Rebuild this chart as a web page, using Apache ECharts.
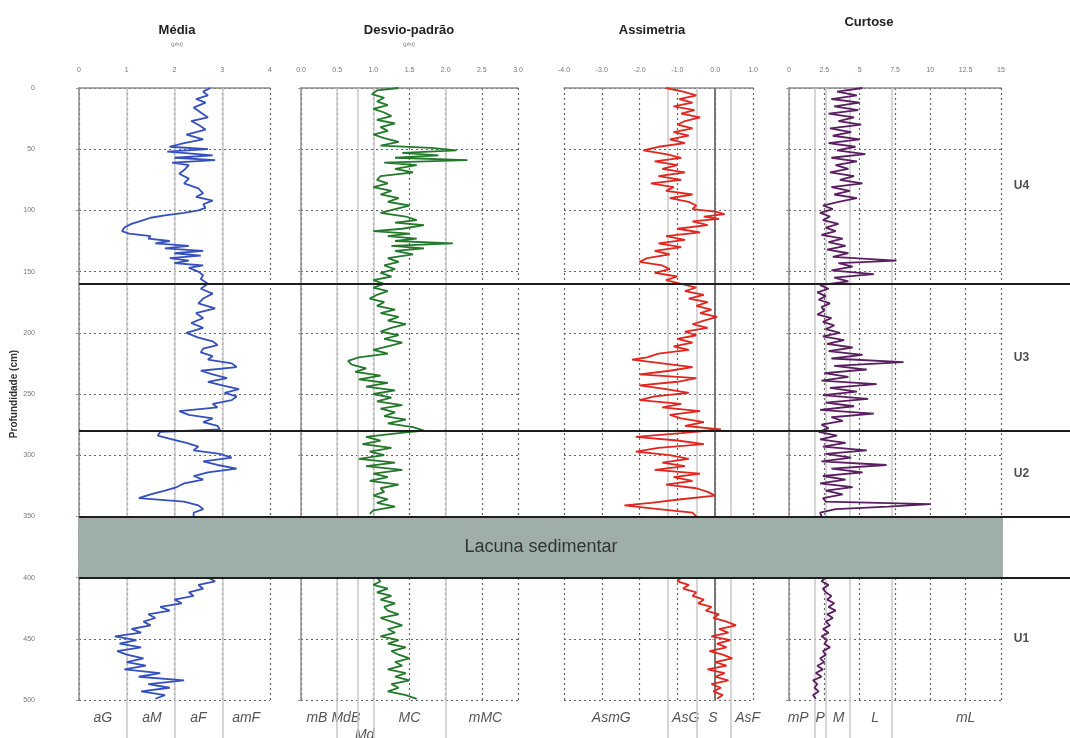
<!DOCTYPE html>
<html lang="pt">
<head>
<meta charset="UTF-8">
<title>Parâmetros granulométricos</title>
<script src="https://cdn.jsdelivr.net/npm/echarts@6/dist/echarts.min.js"></script>
<style>
  html, body { margin: 0; padding: 0; background: #fff; }
  #chart { width: 1070px; height: 738px; }
</style>
</head>
<body>
<div id="chart"></div>
<script>
var media = [[0,2.75],[3,2.6],[6,2.7],[9,2.45],[12,2.65],[16,2.4],[20,2.55],[24,2.7],[27,2.35],[30,2.5],[34,2.65],[38,2.25],[42,2.6],[45,2.2],[48,1.9],[50,2.7],[52,1.85],[55,2.8],[57,2.0],[59,2.85],[61,1.95],[63,2.3],[67,2.2],[70,2.1],[74,2.3],[78,2.2],[82,2.5],[86,2.6],[89,2.45],[92,2.8],[95,2.6],[98,2.65],[100,2.5],[102,2.2],[104,1.8],[106,1.5],[108,1.35],[111,1.1],[114,0.95],[117,0.9],[119,1.05],[121,1.5],[123,1.45],[125,1.9],[127,1.6],[129,2.3],[131,1.8],[133,2.6],[135,2.0],[137,2.55],[139,1.9],[141,2.3],[143,2.0],[145,2.6],[147,2.3],[150,2.5],[153,2.6],[156,2.55],[160,2.7],[164,2.55],[168,2.8],[172,2.6],[176,2.5],[180,2.85],[184,2.45],[188,2.6],[192,2.35],[196,2.6],[200,2.25],[204,2.5],[207,2.8],[210,2.9],[213,2.6],[216,2.55],[219,2.8],[222,2.7],[225,3.2],[228,3.3],[231,2.55],[234,2.8],[237,3.1],[240,2.7],[243,3.0],[246,3.35],[249,3.05],[252,3.3],[255,3.2],[258,2.8],[261,2.9],[264,2.1],[267,2.3],[270,2.8],[273,2.6],[276,2.9],[279,2.95],[281,1.7],[284,1.65],[287,1.95],[290,2.25],[293,2.5],[296,2.4],[299,2.95],[302,3.2],[305,2.6],[308,2.9],[311,3.3],[314,2.7],[317,2.4],[320,2.6],[323,2.2],[326,2.05],[329,1.8],[332,1.5],[335,1.25],[338,2.2],[341,2.5],[344,2.6],[347,2.4],[350,2.4],
  [400,2.7],[403,2.85],[406,2.5],[409,2.6],[412,2.3],[415,2.4],[418,2.0],[421,2.15],[424,1.7],[427,1.9],[430,1.45],[433,1.6],[436,1.35],[439,1.5],[442,1.1],[445,1.3],[448,0.75],[451,1.2],[454,0.85],[457,1.3],[460,0.8],[463,1.0],[466,1.35],[469,1.0],[472,1.4],[475,0.95],[478,1.7],[481,1.25],[484,2.2],[487,1.45],[490,1.9],[493,1.3],[496,1.8],[499,1.6]];

var desvio = [[0,1.35],[2,1.05],[5,0.98],[8,1.15],[11,1.05],[14,1.2],[17,1.0],[20,1.15],[23,1.25],[26,1.05],[29,1.3],[32,1.1],[35,1.2],[38,1.0],[41,1.15],[44,1.35],[47,1.1],[49,1.8],[51,2.15],[53,1.4],[55,1.9],[57,1.3],[59,2.3],[61,1.15],[63,1.6],[66,1.3],[69,1.55],[72,1.1],[75,1.05],[78,1.2],[81,1.0],[84,1.25],[87,1.1],[90,1.35],[93,1.2],[96,1.5],[99,1.3],[102,1.1],[105,1.45],[108,1.6],[110,1.3],[112,1.7],[115,1.4],[117,1.0],[119,1.5],[121,1.2],[123,1.6],[125,1.3],[127,2.1],[129,1.25],[131,1.7],[133,1.3],[136,1.55],[139,1.2],[142,1.35],[145,1.15],[148,1.3],[151,1.1],[154,1.25],[157,1.0],[160,1.15],[163,1.0],[166,1.2],[169,1.05],[172,0.95],[175,1.15],[178,1.05],[181,1.3],[184,1.1],[187,1.35],[190,1.2],[193,1.45],[196,1.25],[199,1.1],[202,1.35],[205,1.15],[208,1.4],[211,1.2],[214,1.0],[217,1.2],[220,0.8],[223,0.65],[226,0.7],[229,0.9],[232,0.75],[235,1.1],[238,0.8],[241,1.2],[244,0.9],[247,1.3],[250,1.0],[253,1.25],[256,1.05],[259,1.4],[262,1.1],[265,1.3],[268,1.15],[271,1.45],[274,1.2],[277,1.55],[280,1.7],[282,1.35],[285,0.9],[288,1.1],[291,0.85],[294,1.25],[297,0.95],[300,1.15],[303,0.8],[306,1.3],[309,0.9],[312,1.4],[315,1.0],[318,1.2],[321,0.95],[324,1.35],[327,1.1],[330,1.15],[333,1.0],[336,1.2],[339,1.05],[342,1.3],[345,1.0],[348,0.95],
  [400,1.05],[403,1.1],[406,1.0],[409,1.2],[412,1.05],[415,1.25],[418,1.1],[421,1.3],[424,1.15],[427,1.2],[430,1.35],[433,1.1],[436,1.25],[439,1.4],[442,1.2],[445,1.3],[448,1.1],[451,1.35],[454,1.2],[457,1.45],[460,1.25],[463,1.35],[466,1.5],[469,1.3],[472,1.4],[475,1.2],[478,1.45],[481,1.3],[484,1.5],[487,1.25],[490,1.35],[493,1.2],[496,1.45],[499,1.6]];

var assimetria = [[0,-1.3],[3,-0.85],[6,-0.5],[9,-0.95],[12,-0.6],[15,-1.1],[18,-0.55],[21,-0.9],[24,-0.4],[27,-0.8],[30,-1.0],[33,-0.6],[36,-1.1],[39,-0.7],[42,-1.2],[45,-0.8],[48,-1.5],[51,-1.9],[54,-1.3],[57,-0.9],[60,-1.6],[63,-1.0],[66,-1.4],[69,-0.8],[72,-1.5],[75,-0.9],[78,-1.7],[81,-1.1],[84,-1.3],[87,-0.6],[90,-1.2],[93,-0.7],[96,-0.5],[99,-0.6],[101,0.0],[103,0.25],[105,-0.3],[107,0.1],[109,-0.6],[112,-0.2],[115,-1.0],[118,-0.4],[121,-1.3],[124,-0.8],[127,-1.5],[130,-0.9],[133,-1.6],[136,-1.2],[139,-1.8],[142,-2.0],[145,-1.4],[148,-1.2],[151,-1.6],[154,-1.0],[157,-1.3],[160,-0.9],[163,-0.5],[166,-0.8],[169,-0.3],[172,-0.7],[175,-0.2],[178,-0.5],[181,-0.1],[184,-0.4],[187,0.05],[190,-0.3],[193,-0.6],[196,-0.2],[199,-0.8],[202,-0.5],[205,-1.0],[208,-0.6],[211,-1.1],[214,-0.7],[217,-1.5],[220,-1.8],[222,-2.2],[225,-1.4],[228,-0.6],[231,-1.2],[234,-2.0],[237,-0.5],[240,-1.0],[243,-2.0],[246,-1.3],[249,-0.7],[252,-1.6],[255,-2.0],[258,-0.9],[261,-1.4],[264,-0.4],[267,-1.2],[270,-0.9],[273,-0.3],[276,-0.8],[279,0.15],[282,-0.9],[285,-2.1],[288,-1.0],[291,-0.3],[294,-1.5],[297,-2.1],[300,-1.2],[303,-0.7],[306,-1.4],[309,-0.8],[312,-1.6],[315,-0.4],[318,-1.1],[321,-0.6],[324,-1.3],[327,-0.5],[330,-0.2],[333,0.0],[336,-0.9],[339,-1.7],[341,-2.4],[344,-1.5],[347,-0.6],[350,-0.5],
  [400,-0.9],[403,-1.0],[406,-0.7],[409,-0.85],[412,-0.5],[415,-0.6],[418,-0.3],[421,-0.45],[424,-0.1],[427,-0.25],[430,0.1],[433,-0.05],[436,0.3],[439,0.55],[442,0.1],[445,0.35],[448,-0.1],[451,0.4],[454,0.05],[457,0.3],[460,-0.15],[463,0.2],[466,0.45],[469,0.0],[472,0.3],[475,-0.2],[478,0.25],[481,0.0],[484,0.35],[487,-0.1],[490,0.15],[493,-0.05],[496,0.2],[499,0.05]];

var curtose = [[0,5.2],[3,3.4],[6,4.8],[9,3.0],[12,5.0],[15,3.2],[18,4.9],[21,2.8],[24,4.6],[27,3.5],[30,5.1],[33,2.9],[36,4.4],[39,3.1],[42,5.0],[45,2.8],[48,4.7],[51,3.4],[54,5.4],[57,3.0],[60,4.8],[63,3.3],[66,4.2],[69,2.9],[72,4.6],[75,3.6],[78,5.2],[81,3.0],[84,4.3],[87,3.2],[90,4.8],[93,3.5],[96,2.4],[99,3.1],[102,2.2],[105,2.9],[108,2.4],[111,3.5],[114,2.6],[117,3.3],[120,2.3],[123,3.8],[126,2.8],[129,4.0],[132,2.7],[135,4.2],[138,3.1],[141,7.6],[143,3.5],[146,4.5],[149,3.0],[152,6.0],[155,3.2],[158,4.2],[161,2.2],[164,2.8],[167,2.0],[170,2.6],[173,2.1],[176,2.9],[179,2.3],[182,2.5],[185,2.0],[188,3.0],[191,2.4],[194,3.2],[197,2.6],[200,3.6],[203,2.4],[206,3.9],[209,2.7],[212,4.5],[215,2.8],[218,5.2],[221,3.0],[224,8.1],[227,3.2],[230,5.5],[233,2.5],[236,4.2],[239,2.3],[242,6.2],[245,2.9],[248,4.8],[251,2.4],[254,5.6],[257,2.6],[260,4.6],[263,2.2],[266,6.0],[269,3.0],[272,3.8],[275,2.3],[278,2.8],[281,2.1],[284,3.4],[287,2.2],[290,4.0],[293,2.4],[296,5.5],[299,2.6],[302,4.4],[305,2.3],[308,6.9],[311,3.0],[314,5.2],[317,2.4],[320,4.0],[323,2.2],[326,4.5],[329,2.6],[332,3.8],[335,2.4],[338,2.6],[340,10.0],[342,7.0],[344,3.3],[347,2.2],[350,2.3],
  [400,2.6],[403,2.3],[406,2.8],[409,2.4],[412,2.6],[415,3.0],[418,2.7],[421,3.2],[424,2.8],[427,3.3],[430,2.7],[433,3.1],[436,2.6],[439,2.9],[442,2.4],[445,2.8],[448,2.3],[451,2.7],[454,2.5],[457,2.9],[460,2.4],[463,2.6],[466,2.2],[469,2.5],[472,2.0],[475,2.4],[478,1.9],[481,2.3],[484,1.7],[487,2.0],[490,1.8],[493,2.1],[496,1.7],[499,1.9]];

var depthTicks = ['0','50','100','150','200','250','300','350','400','450','500'];
var mediaTicks = ['0','1','2','3','4'];
var desvioTicks = ['0.0','0.5','1.0','1.5','2.0','2.5','3.0'];
var assimTicks = ['-4.0','-3.0','-2.0','-1.0','0.0','1.0'];
var curtTicks = ['0','2.5','5','7.5','10','12.5','15'];

// limites das classes (Folk & Ward) e nomes
var mediaClasses = [1, 2, 3];
var mediaNames = ['aG', 'aM', 'aF', 'amF'];
var desvioClasses = [0.5, 0.79, 1.0, 2.0];
var desvioNames = ['mB', 'MdB', 'Md', 'MC', 'mMC'];
var assimClasses = [-1.25, -0.5, 0.42];
var assimNames = ['AsmG', 'AsG', 'S', 'AsF'];
var curtClasses = [1.8, 2.6, 4.3, 7.3];
var curtNames = ['mP', 'P', 'M', 'L', 'mL'];

var units = ['U4', 'U3', 'U2', 'U1'];
var unitTops = [0, 160, 280, 400];
var unitBottoms = [160, 280, 350, 500];
var lacuna = [350, 400];

var panels = [
  { title: 'Média', unit: '(phi)', data: media, ticks: mediaTicks, min: 0, max: 4, step: 1,
    classes: mediaClasses, names: mediaNames, namePos: [0.5, 1.53, 2.5, 3.5], nameLow: [],
    color: '#3550bd', left: 79, width: 191, titleX: 177, titleY: 30 },
  { title: 'Desvio-padrão', unit: '(phi)', data: desvio, ticks: desvioTicks, min: 0, max: 3, step: 0.5,
    classes: desvioClasses, names: desvioNames, namePos: [0.22, 0.62, 0.88, 1.5, 2.55], nameLow: ['Md'],
    color: '#23782b', left: 301, width: 217, titleX: 409, titleY: 30 },
  { title: 'Assimetria', unit: '', data: assimetria, ticks: assimTicks, min: -4, max: 1, step: 1,
    classes: assimClasses, names: assimNames, namePos: [-2.75, -0.78, -0.06, 0.86], nameLow: [],
    color: '#e0261e', left: 564, width: 189, titleX: 652, titleY: 30, zeroLine: true },
  { title: 'Curtose', unit: '', data: curtose, ticks: curtTicks, min: 0, max: 15, step: 2.5,
    classes: curtClasses, names: curtNames, namePos: [0.65, 2.2, 3.5, 6.1, 12.5], nameLow: [],
    color: '#5a1f60', left: 789, width: 212, titleX: 869, titleY: 22 }
];

var TOP = 88, H = 612;
var dash = { color: '#666', type: [2, 3], width: 1.2 };
var classLine = { color: '#c9c9c9', type: 'solid', width: 1.5 };

function toSeries(pairs) {
  var out = [];
  for (var i = 0; i < pairs.length; i++) {
    if (i > 0 && pairs[i][0] - pairs[i - 1][0] > 20) out.push(['-', '-']);
    out.push([pairs[i][1], pairs[i][0]]);
  }
  return out;
}

var grid = [], xAxis = [], yAxis = [], series = [], graphic = [];

panels.forEach(function (p, i) {
  grid.push({ left: p.left, top: TOP, width: p.width, height: H });
  xAxis.push({
    gridIndex: i, type: 'value', position: 'top', min: p.min, max: p.max, interval: p.step,
    axisLine: { show: true, lineStyle: { color: '#8c8c8c', width: 1.5 } },
    axisTick: { show: false },
    axisLabel: { fontSize: 7, color: '#777', margin: 14,
      formatter: function (v) { return p.ticks[Math.round((v - p.min) / p.step)]; } },
    splitLine: { show: true, lineStyle: dash }
  });
  yAxis.push({
    gridIndex: i, type: 'value', inverse: true, min: 0, max: 500, interval: 50,
    axisLine: { show: true, lineStyle: { color: '#8c8c8c', width: 1.5 } },
    axisTick: { show: true, length: 3, lineStyle: { color: '#999' } },
    axisLabel: { show: i === 0, fontSize: 7, color: '#777', margin: 44,
      formatter: function (v) { return depthTicks[Math.round(v / 50)]; } },
    name: i === 0 ? 'Profundidade (cm)' : '',
    nameLocation: 'middle', nameGap: 58,
    nameTextStyle: { fontSize: 10, fontWeight: 'bold', color: '#333', fontFamily: 'Liberation Sans' },
    splitLine: { show: true, lineStyle: dash }
  });
  var ml = p.classes.map(function (c) { return { xAxis: c, lineStyle: classLine }; });
  if (p.zeroLine) ml.push({ xAxis: 0, lineStyle: { color: '#6a6a6a', type: 'solid', width: 1.5 } });
  series.push({
    type: 'line', xAxisIndex: i, yAxisIndex: i, data: toSeries(p.data),
    symbol: 'none', connectNulls: false, z: 3,
    lineStyle: { color: p.color, width: 1.8 },
    markLine: { silent: true, symbol: 'none', label: { show: false }, z: 1, data: ml }
  });
  graphic.push({ type: 'text', x: p.titleX, y: p.titleY,
    style: { text: p.title, font: 'bold 13px "Liberation Sans", Arial', fill: '#222', textAlign: 'center', textVerticalAlign: 'middle' } });
  if (p.unit) graphic.push({ type: 'text', x: p.titleX, y: p.titleY + 14,
    style: { text: p.unit, font: '6px "Liberation Sans", Arial', fill: '#777', textAlign: 'center', textVerticalAlign: 'middle' } });
});

// faixa inferior: linhas de classe prolongadas e nomes das classes
panels.forEach(function (p, i) {
  var gi = panels.length + i;
  grid.push({ left: p.left, top: TOP + H, width: p.width, height: 38 });
  xAxis.push({ gridIndex: gi, type: 'value', min: p.min, max: p.max, show: false });
  yAxis.push({ gridIndex: gi, type: 'value', min: 0, max: 1, show: false });
  series.push({
    type: 'scatter', xAxisIndex: gi, yAxisIndex: gi, symbolSize: 0, silent: true,
    data: p.names.map(function (n, k) {
      return { name: n, value: [p.namePos[k], p.nameLow.indexOf(n) >= 0 ? 0.08 : 0.53] };
    }),
    label: { show: true, position: 'inside', formatter: '{b}', fontSize: 14, fontStyle: 'italic',
      color: '#2a2a2a', fontFamily: 'Liberation Sans' },
    markLine: { silent: true, symbol: 'none', label: { show: false },
      data: p.classes.map(function (c) { return { xAxis: c, lineStyle: classLine }; }) }
  });
});

// lacuna sedimentar
var gBand = grid.length;
grid.push({ left: 79, top: TOP, width: 924, height: H });
xAxis.push({ gridIndex: gBand, type: 'value', min: 0, max: 1, show: false });
yAxis.push({ gridIndex: gBand, type: 'value', inverse: true, min: 0, max: 500, show: false });
series.push({
  type: 'line', xAxisIndex: gBand, yAxisIndex: gBand, data: [], z: 20,
  markArea: { silent: true, z: 20, itemStyle: { color: '#9eafa9' },
    label: { show: true, position: 'inside', color: '#333', fontSize: 18, fontFamily: 'Liberation Sans' },
    data: [[{ name: 'Lacuna sedimentar', yAxis: lacuna[0] }, { yAxis: lacuna[1] }]] }
});

// limites das unidades
var gUnits = grid.length;
grid.push({ left: 79, top: TOP, right: 0, height: H });
xAxis.push({ gridIndex: gUnits, type: 'value', min: 0, max: 1, show: false });
yAxis.push({ gridIndex: gUnits, type: 'value', inverse: true, min: 0, max: 500, show: false });
series.push({
  type: 'scatter', xAxisIndex: gUnits, yAxisIndex: gUnits, symbolSize: 0, silent: true, z: 30,
  data: units.map(function (u, k) { return { name: u, value: [0.951, (unitTops[k] + unitBottoms[k]) / 2] }; }),
  label: { show: true, position: 'inside', formatter: '{b}', fontSize: 12, fontWeight: 'bold', color: '#222',
    fontFamily: 'Liberation Sans' },
  markLine: { silent: true, symbol: 'none', z: 30, label: { show: false },
    lineStyle: { color: '#1e1e1e', width: 2, type: 'solid' },
    data: [unitBottoms[0], unitBottoms[1], lacuna[0], lacuna[1]].map(function (d) { return { yAxis: d }; }) }
});

var chart = echarts.init(document.getElementById('chart'));
chart.setOption({
  animation: false,
  backgroundColor: '#fff',
  textStyle: { fontFamily: 'Liberation Sans' },
  grid: grid, xAxis: xAxis, yAxis: yAxis, series: series, graphic: graphic
});
</script>
</body>
</html>
